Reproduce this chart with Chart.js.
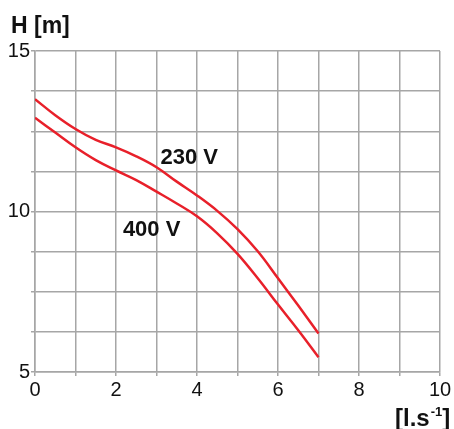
<!DOCTYPE html>
<html>
<head>
<meta charset="utf-8">
<script src="https://cdn.jsdelivr.net/npm/chart.js@4/dist/chart.umd.min.js"></script>
<style>
  html, body { margin: 0; padding: 0; background: #fff; }
  #wrap { width: 454px; height: 429px; }
</style>
</head>
<body>
<div id="wrap"><canvas id="pumpChart" width="454" height="429"></canvas></div>
<script>
// Datos
const flowValues = [0, 0.5, 1, 1.5, 2, 2.5, 3, 3.5, 4, 4.5, 5, 5.5, 6, 6.5, 7];
const head230V = [13.5, 13.0, 12.57, 12.23, 12.0, 11.72, 11.38, 10.93, 10.5, 10.02, 9.45, 8.76, 7.92, 7.07, 6.2];
const head400V = [12.92, 12.46, 12.0, 11.6, 11.28, 10.98, 10.62, 10.25, 9.85, 9.32, 8.68, 7.92, 7.1, 6.3, 5.46];
const xTickLabels = [0, 2, 4, 6, 8, 10];
const yTickLabels = [5, 10, 15];

const red = '#e8202a';
const gridGray = '#a6a6a6';

function toPoints(ys) {
  return flowValues.map((x, i) => ({ x: x, y: ys[i] }));
}

// Textos del gráfico (títulos de ejes y etiquetas de curvas)
const textPlugin = {
  id: 'texts',
  afterDraw(chart) {
    const ctx = chart.ctx;
    const xs = chart.scales.x;
    const ys = chart.scales.y;
    ctx.save();
    ctx.fillStyle = '#111';
    ctx.textBaseline = 'alphabetic';
    ctx.textAlign = 'left';
    ctx.font = 'bold 23px "Liberation Sans", Arial, sans-serif';
    ctx.fillText('H [m]', 11, 33);

    ctx.font = 'bold 22px "Liberation Sans Narrow", "Liberation Sans", sans-serif';
    ctx.fillText('230 V', xs.getPixelForValue(3.1), ys.getPixelForValue(11.45) - 1);
    ctx.fillText('400 V', xs.getPixelForValue(2.17), ys.getPixelForValue(9.3) + 2);

    // [l.s-1]
    ctx.font = 'bold 24px "Liberation Sans", Arial, sans-serif';
    let x = 395, y = 426;
    ctx.fillText('[l.s', x, y);
    x += ctx.measureText('[l.s').width;
    ctx.font = 'bold 13px "Liberation Sans", Arial, sans-serif';
    ctx.fillText('-1', x + 1, y - 10);
    x += ctx.measureText('-1').width + 1;
    ctx.font = 'bold 24px "Liberation Sans", Arial, sans-serif';
    ctx.fillText(']', x, y);
    ctx.restore();
  }
};

function createPumpChart() {
  const ctx = document.getElementById('pumpChart').getContext('2d');
  new Chart(ctx, {
    type: 'line',
    data: {
      datasets: [
        { label: '230 V', data: toPoints(head230V), borderColor: red, borderWidth: 2.5,
          pointRadius: 0, tension: 0.4, fill: false },
        { label: '400 V', data: toPoints(head400V), borderColor: red, borderWidth: 2.5,
          pointRadius: 0, tension: 0.4, fill: false }
      ]
    },
    options: {
      responsive: false,
      animation: false,
      layout: { padding: { top: 51, right: 14, left: 0, bottom: 0 } },
      plugins: { legend: { display: false }, tooltip: { enabled: false } },
      scales: {
        x: {
          type: 'linear', min: 0, max: 10,
          afterFit(scale) { scale.height = 57; },
          ticks: {
            stepSize: 1, autoSkip: false, maxRotation: 0, padding: 2,
            color: '#111', font: { family: '"Liberation Sans", Arial, sans-serif', size: 20 },
            callback: v => xTickLabels.includes(v) ? String(v) : ''
          },
          grid: { color: gridGray, lineWidth: 1.5, tickLength: 4 },
          border: { color: gridGray, width: 1.5 }
        },
        y: {
          type: 'linear', min: 5, max: 15,
          afterFit(scale) { scale.width = 35; },
          afterBuildTicks(scale) {
            const t = [];
            for (let v = 5; v <= 15.001; v += 1.25) t.push({ value: v });
            scale.ticks = t;
          },
          ticks: {
            autoSkip: false, padding: 1,
            color: '#111', font: { family: '"Liberation Sans", Arial, sans-serif', size: 20 },
            callback: v => yTickLabels.includes(v) ? String(v) : ''
          },
          grid: { color: gridGray, lineWidth: 1.5, tickLength: 4 },
          border: { color: gridGray, width: 1.5 }
        }
      }
    },
    plugins: [textPlugin]
  });
}

document.addEventListener('DOMContentLoaded', function() {
  createPumpChart();
});
</script>
</body>
</html>
